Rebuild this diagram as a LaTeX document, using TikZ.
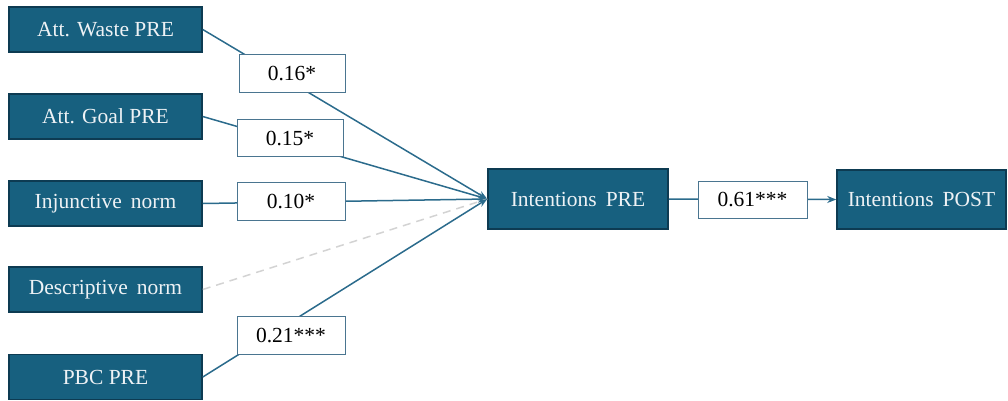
\documentclass[tikz,border=0pt]{standalone}
\usepackage{fontspec}
\setmainfont{Liberation Serif}
\usetikzlibrary{arrows.meta}
\definecolor{boxfill}{HTML}{17607F}
\definecolor{boxdraw}{HTML}{0D3B52}
\definecolor{edgec}{HTML}{2B6B8C}
\definecolor{labdraw}{HTML}{4A7590}
\definecolor{txtc}{HTML}{EEF2F5}
\definecolor{dashc}{HTML}{D3D3D3}
\begin{document}
\begin{tikzpicture}[x=1pt,y=-1pt,
  var/.style={draw=boxdraw, line width=1.5pt, fill=boxfill, text=txtc, minimum height=45pt, minimum width=193pt, inner sep=0pt, font=\fontsize{21.5}{24}\selectfont},
  lab/.style={draw=labdraw, line width=1pt, fill=white, text=black, minimum height=37pt, minimum width=106pt, inner sep=0pt, font=\fontsize{21.5}{24}\selectfont},
  path/.style={draw=edgec, line width=1.5pt},
  arr/.style={path, -{Stealth[length=9pt,width=7pt]}},
  ns/.style={draw=dashc, line width=1.5pt, dash pattern=on 8pt off 6pt}
]
\useasboundingbox (0,0) rectangle (1008,400);
\node[var] (aw) at (105.5,29.5) {Att. Waste PRE};
\node[var] (ag) at (105.5,116.5) {Att. Goal PRE};
\node[var] (in) at (105.5,203.5) {Injunctive\, norm};
\node[var] (dn) at (105.5,289.5) {Descriptive\, norm};
\node[var] (pb) at (105.5,377) {PBC PRE};
\node[var, minimum width=180pt, minimum height=60pt] (ip) at (578,199) {Intentions\, PRE};
\node[var, minimum width=169pt, minimum height=59pt] (po) at (921.5,199.5) {Intentions\, POST};
\draw[arr] (aw.east) -- (ip.west);
\draw[arr] (ag.east) -- (ip.west);
\draw[arr] (in.east) -- (ip.west);
\draw[ns] (dn.east) -- (ip.west);
\draw[arr] (pb.east) -- (ip.west);
\draw[arr] (ip.east) -- (po.west);
\node[lab, minimum height=38pt] (l1) at (292,73) {0.16*};
\node[lab] (l2) at (290,138) {0.15*};
\node[lab, minimum width=108pt, minimum height=38pt] (l3) at (291,201) {0.10*};
\node[lab, minimum width=108pt, minimum height=38pt] (l4) at (291,335) {0.21***};
\node[lab, minimum width=109pt] (l5) at (752.5,199.5) {0.61***};
\end{tikzpicture}
\end{document}
